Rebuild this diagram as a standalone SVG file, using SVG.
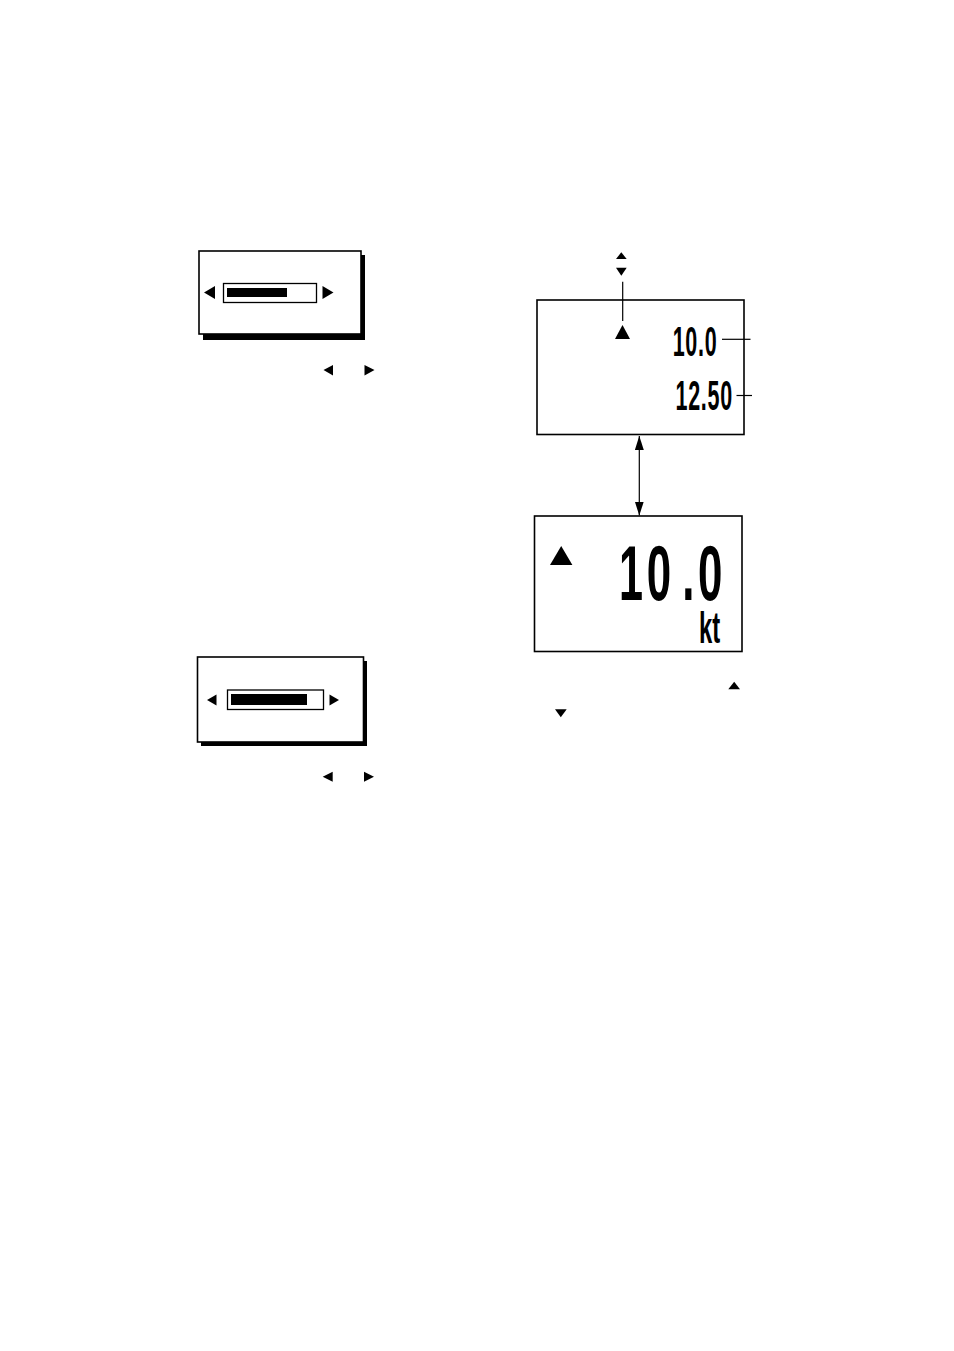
<svg xmlns="http://www.w3.org/2000/svg" width="954" height="1351" viewBox="0 0 954 1351">
<style>
.bg{fill:#ffffff}
.box{fill:#ffffff;stroke:#000;stroke-width:1.6}
.shadow{fill:#000}
.frame{fill:#ffffff;stroke:#000;stroke-width:1.3}
.bar{fill:#000}
.tri{fill:#000}
.line{stroke:#000;stroke-width:1.2;fill:none}
.digit{font-family:"Liberation Sans",Arial,sans-serif;font-weight:bold;fill:#000}
</style>
<defs>
<marker id="ah" viewBox="0 0 14 9" refX="14" refY="4.5" markerWidth="14" markerHeight="9" markerUnits="userSpaceOnUse" orient="auto-start-reverse">
<path d="M0,0 L14,4.5 L0,9 z" fill="#000"/>
</marker>
</defs>
<rect class="bg" x="0" y="0" width="954" height="1351"/>

<g id="slider-box-1">
<rect class="shadow" x="203" y="255" width="162" height="85"/>
<rect class="box" x="199" y="251" width="162" height="83"/>
<rect class="frame" x="223.5" y="283.5" width="93" height="19"/>
<rect class="bar" x="227" y="288" width="60" height="9"/>
<polygon class="tri" points="204,292.5 215,286 215,299"/>
<polygon class="tri" points="333.5,292.5 322.5,286 322.5,299"/>
</g>
<g id="keys-1">
<polygon class="tri" points="323.5,370 333,365 333,375.5"/>
<polygon class="tri" points="374.5,370 364.5,365 364.5,375.5"/>
</g>

<g id="slider-box-2">
<rect class="shadow" x="201" y="661" width="166" height="85"/>
<rect class="box" x="197.5" y="657" width="166" height="85"/>
<rect class="frame" x="227.5" y="690" width="96" height="19.5"/>
<rect class="bar" x="231" y="694" width="76" height="11"/>
<polygon class="tri" points="207,700 216.5,694.5 216.5,705.5"/>
<polygon class="tri" points="339,700 329.5,694.5 329.5,705.5"/>
</g>
<g id="keys-2">
<polygon class="tri" points="322.7,776.7 332.7,771.7 332.7,781.7"/>
<polygon class="tri" points="374,776.7 364,771.7 364,781.7"/>
</g>

<g id="display-1">
<rect class="box" x="537" y="300" width="207" height="134.5"/>
<polygon class="tri" points="615,339 622.5,325 630,339"/>
<text class="digit" font-size="43" text-anchor="end" letter-spacing="1.5" transform="translate(717.5,355.7) scale(0.5,1)">10.0</text>
<text class="digit" font-size="43" text-anchor="end" letter-spacing="1.5" transform="translate(733,409.5) scale(0.5,1)">12.50</text>
</g>

<g id="updown-key">
<polygon class="tri" points="616,259 621.3,252.3 626.7,259"/>
<polygon class="tri" points="616,267.7 626.7,267.7 621.3,275.7"/>
</g>

<g id="display-2">
<rect class="box" x="534.5" y="516" width="207.5" height="135.5"/>
<polygon class="tri" points="550,565 561.2,546 572.4,565"/>
<text class="digit" font-size="77" text-anchor="middle" transform="translate(631,600) scale(0.56,1)">1</text>
<text class="digit" font-size="77" text-anchor="middle" transform="translate(659,600) scale(0.57,1)">0</text>
<text class="digit" font-size="77" text-anchor="middle" transform="translate(688.3,600) scale(0.57,1)">.</text>
<text class="digit" font-size="77" text-anchor="middle" transform="translate(710.3,600) scale(0.57,1)">0</text>
<text class="digit" font-size="45" text-anchor="middle" transform="translate(709.5,643) scale(0.53,1)">kt</text>
</g>

<g id="keys-3">
<polygon class="tri" points="728.3,689.3 734.2,681.7 740,689.3"/>
<polygon class="tri" points="555,709.3 566.7,709.3 560.8,717.3"/>
</g>

<g id="connectors">
<line class="line" x1="622.7" y1="281.7" x2="622.7" y2="321"/>
<line class="line" x1="722" y1="339.3" x2="750.5" y2="339.3"/>
<line class="line" x1="736.5" y1="395.5" x2="752" y2="395.5"/>
<line class="line" x1="639.3" y1="436" x2="639.3" y2="515.5" marker-start="url(#ah)" marker-end="url(#ah)"/>
</g>
</svg>
